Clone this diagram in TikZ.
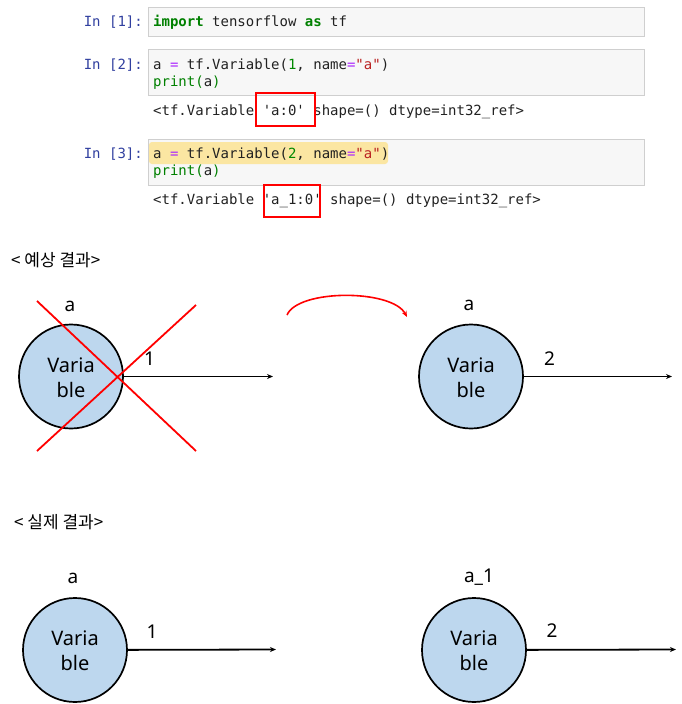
\documentclass[tikz,border=0pt]{standalone}
\usepackage{fontspec}
\setmainfont{Noto Sans}
\setmonofont{DejaVu Sans Mono}
\newfontfamily\cjk{Noto Sans CJK KR}
\usetikzlibrary{arrows.meta}
\definecolor{promptc}{HTML}{303F9F}
\definecolor{kwgreen}{HTML}{008000}
\definecolor{opc}{HTML}{AA22FF}
\definecolor{numc}{HTML}{008800}
\definecolor{strc}{HTML}{BA2121}
\definecolor{codec}{HTML}{212121}
\definecolor{cellbg}{HTML}{F7F7F7}
\definecolor{cellbd}{HTML}{CFCFCF}
\definecolor{hlc}{HTML}{FBE6A2}
\definecolor{varfill}{HTML}{BDD7EE}
\definecolor{xred}{HTML}{FF0000}
\newcommand\cdkw[1]{\textcolor{kwgreen}{\bfseries #1}}
\newcommand\cdop[1]{\textcolor{opc}{#1}}
\newcommand\cdnum[1]{\textcolor{numc}{#1}}
\newcommand\cdstr[1]{\textcolor{strc}{#1}}
\begin{document}
\begin{tikzpicture}[x=1pt,y=-1pt,
  cellbox/.style={fill=cellbg,draw=cellbd,line width=1pt},
  prompt/.style={anchor=base east,inner sep=0,text=promptc,font=\ttfamily\fontsize{14}{17}\selectfont},
  code/.style={anchor=base west,inner sep=0,text=codec,font=\ttfamily\fontsize{14}{17}\selectfont},
  redbox/.style={draw=xred,line width=2pt,inner sep=0},
  heading/.style={anchor=base west,inner sep=0,font=\cjk\fontsize{17}{20}\selectfont},
  varnode/.style={circle,draw=black,line width=1.7pt,fill=varfill,minimum size=104pt,inner sep=0},
  vartext/.style={align=center,inner sep=0,font=\fontsize{20}{25}\selectfont},
  lab/.style={anchor=base,inner sep=0,font=\fontsize{19}{22}\selectfont},
  arr/.style={line width=1.8pt,-{Stealth[length=6pt,width=5pt]}},
  xline/.style={draw=xred,line width=1.8pt},
  redarr/.style={draw=xred,line width=1.6pt,-{Stealth[length=6pt,width=5pt]}}
]
\useasboundingbox (0,0) rectangle (682,704);

% notebook cells
\draw[cellbox] (148,7) rectangle (644,36);
\draw[cellbox] (148,49) rectangle (644,95);
\draw[cellbox] (148,139) rectangle (644,185);
\fill[hlc,rounded corners=3pt] (149,142) rectangle (388,164);

\node[prompt] (p1) at (143,26) {In [1]:};
\node[code] (l1) at (153,26) {\cdkw{import} tensorflow \cdkw{as} tf};

\node[prompt] (p2) at (143,69) {In [2]:};
\node[code] (l2a) at (153,69) {a \cdop{=} tf.Variable(\cdnum{1}, name\cdop{=}\cdstr{"a"})};
\node[code] (l2b) at (153,86) {\textcolor{kwgreen}{print(}a\textcolor{kwgreen}{)}};
\node[code] (o1) at (153,115) {<tf.Variable 'a:0' shape=() dtype=int32\_ref>};

\node[prompt] (p3) at (143,158) {In [3]:};
\node[code] (l3a) at (153,158) {a \cdop{=} tf.Variable(\cdnum{2}, name\cdop{=}\cdstr{"a"})};
\node[code] (l3b) at (153,175) {\textcolor{kwgreen}{print(}a\textcolor{kwgreen}{)}};
\node[code] (o2) at (153,204) {<tf.Variable 'a\_1:0' shape=() dtype=int32\_ref>};

\node[redbox,minimum width=59pt,minimum height=33pt] (r1) at (285.5,109.5) {};
\node[redbox,minimum width=56pt,minimum height=32pt] (r2) at (292,201) {};

% headings
\node[heading] (h1) at (11,266) {< 예상 결과>};
\node[heading] (h2) at (14,528) {< 실제 결과>};

% expected result
\node[varnode] (c1) at (71,376.5) {};
\node[vartext] (t1) at ([yshift=-1pt]c1.center) {Varia\\ble};
\node[lab] (a1) at (70,311) {a};
\node[lab] (n1) at (149.5,365) {1};
\coordinate (e1) at (273,376.5);
\draw[arr] (c1) -- (e1);

\coordinate (x1a) at (37,301);
\coordinate (x1b) at (196,451);
\coordinate (x2a) at (196,305);
\coordinate (x2b) at (37,451);
\draw[xline] (x1a) -- (x1b);
\draw[xline] (x2a) -- (x2b);

\coordinate (k1) at (287,315);
\coordinate (k2) at (407,317);
\draw[redarr] (k1) .. controls (298,289) and (392,289) .. (k2);

\node[varnode] (c2) at (471,376.5) {};
\node[vartext] (t2) at ([yshift=-1pt]c2.center) {Varia\\ble};
\node[lab] (a2) at (469,310) {a};
\node[lab] (n2) at (549.5,365) {2};
\coordinate (e2) at (672,376.5);
\draw[arr] (c2) -- (e2);

% actual result
\node[varnode] (c3) at (75,650) {};
\node[vartext] (t3) at ([yshift=-1pt]c3.center) {Varia\\ble};
\node[lab] (a3) at (73,583) {a};
\node[lab] (n3) at (152,638) {1};
\coordinate (e3) at (276,649.5);
\draw[arr] (c3) -- (e3);

\node[varnode] (c4) at (474,650) {};
\node[vartext] (t4) at ([yshift=-1pt]c4.center) {Varia\\ble};
\node[lab] (a4) at (479,582) {a\_1};
\node[lab] (n4) at (552,637) {2};
\coordinate (e4) at (676,649.5);
\draw[arr] (c4) -- (e4);
\end{tikzpicture}
\end{document}
